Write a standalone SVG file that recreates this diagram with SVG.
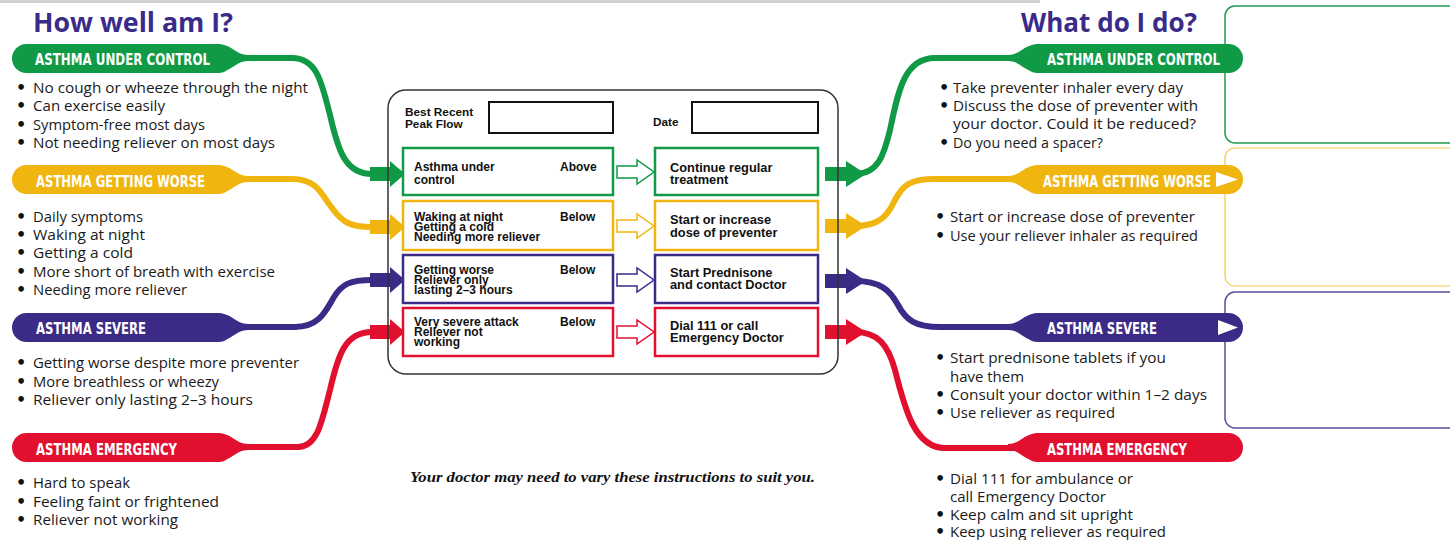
<svg xmlns="http://www.w3.org/2000/svg" width="1450" height="540" viewBox="0 0 1450 540">
<style>
.head{font-family:"Open Sans","Noto Sans",sans-serif;font-weight:bold;font-size:26px;fill:#3a2b8a}
.pt{font-family:"DejaVu Sans","Liberation Sans",sans-serif;font-stretch:condensed;font-weight:bold;font-size:16px;fill:#fff}
.bt{font-family:"Open Sans","Noto Sans",sans-serif;font-size:15px;fill:#1a1a1a}
.bu{font-family:"DejaVu Sans","Liberation Sans",sans-serif;font-weight:bold;font-size:16px;fill:#111}
.rt{font-family:"Liberation Sans",Arial,sans-serif;font-weight:bold;font-size:12px;fill:#111}
.rt2{font-family:"Liberation Sans",Arial,sans-serif;font-weight:bold;font-size:12.8px;fill:#111}
.ft{font-family:"Liberation Serif","DejaVu Serif",serif;font-weight:bold;font-style:italic;font-size:14.5px;fill:#111}
.g{fill:#109a46}.y{fill:#f0b50f}.p{fill:#3c2a87}.r{fill:#e2102f}
.gs{stroke:#109a46}.ys{stroke:#f0b50f}.ps{stroke:#3c2a87}.rs{stroke:#e2102f}
.ln{fill:none;stroke-width:6}
.rowbox{fill:#fff;stroke-width:2.5}
.holl{fill:#fff;stroke-width:1.5}
</style>

<rect x="0" y="0" width="1040" height="3" fill="#d0d0d0"/>

<g id="right-boxes">
<rect x="1225" y="6" width="240" height="137" rx="10" fill="#fff" stroke="#1f9a50" stroke-width="1.5"/>
<rect x="1225" y="148" width="240" height="138" rx="10" fill="#fff" stroke="#f2c84a" stroke-width="1.2"/>
<rect x="1225" y="292" width="240" height="136" rx="10" fill="#fff" stroke="#55509a" stroke-width="1.5"/>
</g>

<g id="connectors">
<path class="ln gs" d="M230 58 H292 C318 58 322 85 330 115 C338 150 345 174 372 174"/>
<path class="ln ys" d="M230 179 H292 C318 179 322 196 332 208 C342 222 350 227 372 227"/>
<path class="ln ps" d="M230 327 H295 C320 327 326 310 334 297 C342 284 350 280 372 280"/>
<path class="ln rs" d="M230 447 H298 C318 447 322 420 330 390 C338 355 345 332 372 332"/>
<path class="g" d="M370 167 H390 V161 L405 174 L390 187 V181 H370 Z"/>
<path class="y" d="M370 220 H390 V214 L405 227 L390 240 V234 H370 Z"/>
<path class="p" d="M370 273 H390 V267 L405 280 L390 293 V287 H370 Z"/>
<path class="r" d="M370 325 H390 V319 L405 332 L390 345 V339 H370 Z"/>

<path class="ln gs" d="M855 174 C878 174 884 155 890 130 C898 92 904 58 935 58 H1030"/>
<path class="ln ys" d="M855 226 C880 226 888 215 895 200 C903 185 910 179 935 179 H1030"/>
<path class="ln ps" d="M855 281 C880 281 890 290 898 305 C906 320 915 327 940 327 H1030"/>
<path class="ln rs" d="M855 332 C878 332 888 345 895 370 C905 410 915 448 945 448 H1030"/>
<path class="g" d="M825 167 H846 V161 L866 174 L846 187 V181 H825 Z"/>
<path class="y" d="M825 219 H846 V213 L866 226 L846 239 V233 H825 Z"/>
<path class="p" d="M825 274 H846 V268 L866 281 L846 294 V288 H825 Z"/>
<path class="r" d="M825 325 H846 V319 L866 332 L846 345 V339 H825 Z"/>
</g>

<g id="heading-left"><text class="head" x="33" y="32" textLength="200" lengthAdjust="spacingAndGlyphs">How well am I?</text></g>
<g id="heading-right"><text class="head" x="1021" y="32" textLength="176" lengthAdjust="spacingAndGlyphs">What do I do?</text></g>

<g id="left-under-control">
<rect class="g" x="12" y="44" width="221" height="29" rx="14.5"/>
<path class="g" d="M222 45 C232 45 236 55 248 55 V61 C236 61 232 71 222 71 Z"/>
<text class="pt" x="35" y="65" textLength="175" lengthAdjust="spacingAndGlyphs">ASTHMA UNDER CONTROL</text>
<text class="bu" x="16" y="93">•</text><text class="bt" x="33" y="93" textLength="275" lengthAdjust="spacingAndGlyphs">No cough or wheeze through the night</text>
<text class="bu" x="16" y="111">•</text><text class="bt" x="33" y="111" textLength="132" lengthAdjust="spacingAndGlyphs">Can exercise easily</text>
<text class="bu" x="16" y="130">•</text><text class="bt" x="33" y="130" textLength="172" lengthAdjust="spacingAndGlyphs">Symptom-free most days</text>
<text class="bu" x="16" y="148">•</text><text class="bt" x="33" y="148" textLength="242" lengthAdjust="spacingAndGlyphs">Not needing reliever on most days</text>
</g>

<g id="left-getting-worse">
<rect class="y" x="12" y="165" width="221" height="29" rx="14.5"/>
<path class="y" d="M222 166 C232 166 236 176 248 176 V182 C236 182 232 192 222 192 Z"/>
<text class="pt" x="36" y="187" textLength="169" lengthAdjust="spacingAndGlyphs">ASTHMA GETTING WORSE</text>
<text class="bu" x="16" y="222">•</text><text class="bt" x="33" y="222" textLength="110" lengthAdjust="spacingAndGlyphs">Daily symptoms</text>
<text class="bu" x="16" y="240">•</text><text class="bt" x="33" y="240" textLength="112" lengthAdjust="spacingAndGlyphs">Waking at night</text>
<text class="bu" x="16" y="258">•</text><text class="bt" x="33" y="258" textLength="100" lengthAdjust="spacingAndGlyphs">Getting a cold</text>
<text class="bu" x="16" y="277">•</text><text class="bt" x="33" y="277" textLength="242" lengthAdjust="spacingAndGlyphs">More short of breath with exercise</text>
<text class="bu" x="16" y="295">•</text><text class="bt" x="33" y="295" textLength="154" lengthAdjust="spacingAndGlyphs">Needing more reliever</text>
</g>

<g id="left-severe">
<rect class="p" x="12" y="313" width="221" height="29" rx="14.5"/>
<path class="p" d="M222 314 C232 314 236 324 248 324 V330 C236 330 232 340 222 340 Z"/>
<text class="pt" x="36" y="334" textLength="110" lengthAdjust="spacingAndGlyphs">ASTHMA SEVERE</text>
<text class="bu" x="16" y="368">•</text><text class="bt" x="33" y="368" textLength="266" lengthAdjust="spacingAndGlyphs">Getting worse despite more preventer</text>
<text class="bu" x="16" y="387">•</text><text class="bt" x="33" y="387" textLength="186" lengthAdjust="spacingAndGlyphs">More breathless or wheezy</text>
<text class="bu" x="16" y="405">•</text><text class="bt" x="33" y="405" textLength="220" lengthAdjust="spacingAndGlyphs">Reliever only lasting 2–3 hours</text>
</g>

<g id="left-emergency">
<rect class="r" x="12" y="433" width="221" height="29" rx="14.5"/>
<path class="r" d="M222 434 C232 434 236 444 248 444 V450 C236 450 232 460 222 460 Z"/>
<text class="pt" x="36" y="455" textLength="141" lengthAdjust="spacingAndGlyphs">ASTHMA EMERGENCY</text>
<text class="bu" x="16" y="488">•</text><text class="bt" x="33" y="488" textLength="97" lengthAdjust="spacingAndGlyphs">Hard to speak</text>
<text class="bu" x="16" y="507">•</text><text class="bt" x="33" y="507" textLength="186" lengthAdjust="spacingAndGlyphs">Feeling faint or frightened</text>
<text class="bu" x="16" y="525">•</text><text class="bt" x="33" y="525" textLength="145" lengthAdjust="spacingAndGlyphs">Reliever not working</text>
</g>

<g id="center-card">
<rect x="388" y="90" width="450" height="284" rx="18" fill="none" stroke="#333" stroke-width="1.5"/>
<text class="rt" x="405" y="116" style="font-size:11.8px">Best Recent</text>
<text class="rt" x="405" y="128" style="font-size:11.8px">Peak Flow</text>
<rect x="489" y="102" width="124" height="31" fill="#fff" stroke="#111" stroke-width="2"/>
<text class="rt" x="653" y="126" style="font-size:11.8px">Date</text>
<rect x="692" y="102" width="126" height="31" fill="#fff" stroke="#111" stroke-width="2"/>
</g>

<g id="row-under-control">
<rect class="rowbox gs" x="403" y="148" width="210" height="47"/>
<text class="rt" x="414" y="171">Asthma under</text>
<text class="rt" x="414" y="184">control</text>
<text class="rt" x="560" y="171">Above</text>
<path class="holl gs" d="M617 166 H637 V160 L654 172 L637 184 V178 H617 Z"/>
<rect class="rowbox gs" x="655" y="148" width="163" height="47"/>
<text class="rt2" x="670" y="172">Continue regular</text>
<text class="rt2" x="670" y="184">treatment</text>
</g>

<g id="row-getting-worse">
<rect class="rowbox ys" x="403" y="201" width="210" height="49"/>
<text class="rt" x="414" y="221">Waking at night</text>
<text class="rt" x="414" y="231">Getting a cold</text>
<text class="rt" x="414" y="241">Needing more reliever</text>
<text class="rt" x="560" y="221">Below</text>
<path class="holl ys" d="M617 220 H637 V214 L654 226 L637 238 V232 H617 Z"/>
<rect class="rowbox ys" x="655" y="201" width="163" height="49"/>
<text class="rt2" x="670" y="224">Start or increase</text>
<text class="rt2" x="670" y="237">dose of preventer</text>
</g>

<g id="row-severe">
<rect class="rowbox ps" x="403" y="255" width="210" height="48"/>
<text class="rt" x="414" y="274">Getting worse</text>
<text class="rt" x="414" y="284">Reliever only</text>
<text class="rt" x="414" y="294">lasting 2–3 hours</text>
<text class="rt" x="560" y="274">Below</text>
<path class="holl ps" d="M617 274 H637 V268 L654 280 L637 292 V286 H617 Z"/>
<rect class="rowbox ps" x="655" y="255" width="163" height="48"/>
<text class="rt2" x="670" y="277">Start Prednisone</text>
<text class="rt2" x="670" y="289">and contact Doctor</text>
</g>

<g id="row-emergency">
<rect class="rowbox rs" x="403" y="308" width="210" height="48"/>
<text class="rt" x="414" y="326">Very severe attack</text>
<text class="rt" x="414" y="336">Reliever not</text>
<text class="rt" x="414" y="346">working</text>
<text class="rt" x="560" y="326">Below</text>
<path class="holl rs" d="M617 326 H637 V320 L654 332 L637 344 V338 H617 Z"/>
<rect class="rowbox rs" x="655" y="308" width="163" height="48"/>
<text class="rt2" x="670" y="330">Dial 111 or call</text>
<text class="rt2" x="670" y="342">Emergency Doctor</text>
</g>

<g id="right-under-control">
<rect class="g" x="1023" y="44" width="220" height="29" rx="14.5"/>
<path class="g" d="M1034 45 C1024 45 1020 55 1008 55 V61 C1020 61 1024 71 1034 71 Z"/>
<text class="pt" x="1047" y="65" textLength="173" lengthAdjust="spacingAndGlyphs">ASTHMA UNDER CONTROL</text>
<text class="bu" x="939" y="93">•</text><text class="bt" x="953" y="93" textLength="230" lengthAdjust="spacingAndGlyphs">Take preventer inhaler every day</text>
<text class="bu" x="939" y="111">•</text><text class="bt" x="953" y="111" textLength="245" lengthAdjust="spacingAndGlyphs">Discuss the dose of preventer with</text>
<text class="bt" x="953" y="129" textLength="243" lengthAdjust="spacingAndGlyphs">your doctor. Could it be reduced?</text>
<text class="bu" x="939" y="148">•</text><text class="bt" x="953" y="148" textLength="150" lengthAdjust="spacingAndGlyphs">Do you need a spacer?</text>
</g>

<g id="right-getting-worse">
<rect class="y" x="1023" y="165" width="220" height="29" rx="14.5"/>
<path class="y" d="M1034 166 C1024 166 1020 176 1008 176 V182 C1020 182 1024 192 1034 192 Z"/>
<text class="pt" x="1043" y="187" textLength="168" lengthAdjust="spacingAndGlyphs">ASTHMA GETTING WORSE</text>
<path d="M1216 172 L1238 179.5 L1216 187 Z" fill="#fff"/>
<text class="bu" x="935" y="222">•</text><text class="bt" x="950" y="222" textLength="245" lengthAdjust="spacingAndGlyphs">Start or increase dose of preventer</text>
<text class="bu" x="935" y="241">•</text><text class="bt" x="950" y="241" textLength="248" lengthAdjust="spacingAndGlyphs">Use your reliever inhaler as required</text>
</g>

<g id="right-severe">
<rect class="p" x="1023" y="313" width="220" height="29" rx="14.5"/>
<path class="p" d="M1034 314 C1024 314 1020 324 1008 324 V330 C1020 330 1024 340 1034 340 Z"/>
<text class="pt" x="1047" y="334" textLength="110" lengthAdjust="spacingAndGlyphs">ASTHMA SEVERE</text>
<path d="M1218 320 L1238 327.5 L1218 335 Z" fill="#fff"/>
<text class="bu" x="935" y="363">•</text><text class="bt" x="950" y="363" textLength="216" lengthAdjust="spacingAndGlyphs">Start prednisone tablets if you</text>
<text class="bt" x="950" y="382" textLength="74" lengthAdjust="spacingAndGlyphs">have them</text>
<text class="bu" x="935" y="400">•</text><text class="bt" x="950" y="400" textLength="257" lengthAdjust="spacingAndGlyphs">Consult your doctor within 1–2 days</text>
<text class="bu" x="935" y="418">•</text><text class="bt" x="950" y="418" textLength="165" lengthAdjust="spacingAndGlyphs">Use reliever as required</text>
</g>

<g id="right-emergency">
<rect class="r" x="1023" y="433" width="220" height="29" rx="14.5"/>
<path class="r" d="M1034 434 C1024 434 1020 444 1008 444 V450 C1020 450 1024 460 1034 460 Z"/>
<text class="pt" x="1047" y="455" textLength="140" lengthAdjust="spacingAndGlyphs">ASTHMA EMERGENCY</text>
<text class="bu" x="935" y="484">•</text><text class="bt" x="950" y="484" textLength="183" lengthAdjust="spacingAndGlyphs">Dial 111 for ambulance or</text>
<text class="bt" x="950" y="502" textLength="156" lengthAdjust="spacingAndGlyphs">call Emergency Doctor</text>
<text class="bu" x="935" y="520">•</text><text class="bt" x="950" y="520" textLength="183" lengthAdjust="spacingAndGlyphs">Keep calm and sit upright</text>
<text class="bu" x="935" y="537">•</text><text class="bt" x="950" y="537" textLength="216" lengthAdjust="spacingAndGlyphs">Keep using reliever as required</text>
</g>

<g id="footnote"><text class="ft" x="410" y="482" textLength="405" lengthAdjust="spacingAndGlyphs">Your doctor may need to vary these instructions to suit you.</text></g>
</svg>
